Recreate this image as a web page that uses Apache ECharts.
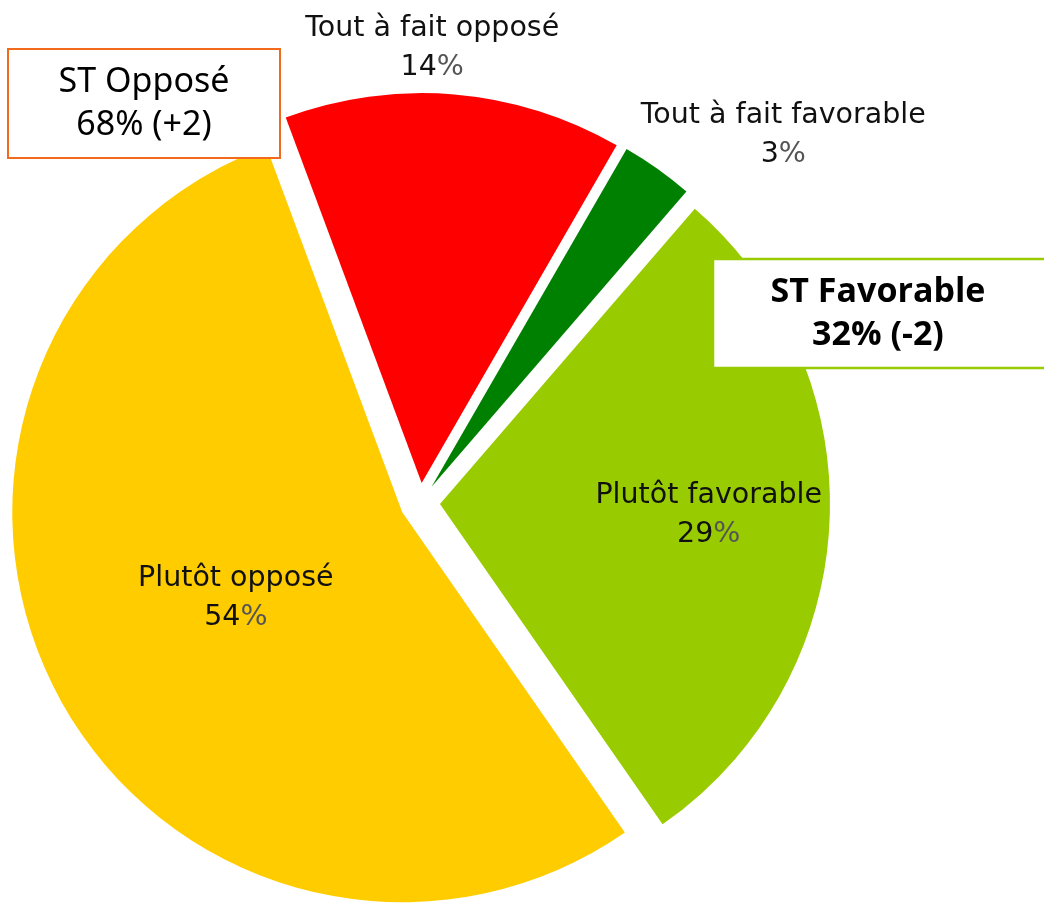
<!DOCTYPE html>
<html>
<head>
<meta charset="utf-8">
<script src="https://cdn.jsdelivr.net/npm/echarts@6/dist/echarts.min.js"></script>
<style>
  html, body { margin: 0; padding: 0; background: #ffffff; }
  #chart { width: 1044px; height: 904px; }
</style>
</head>
<body>
<div id="chart"></div>
<script>
// ---- data ----
const categories = ['Tout à fait favorable', 'Plutôt favorable', 'Plutôt opposé', 'Tout à fait opposé'];
const values = [3, 29, 54, 14];
const colors = ['#008000', '#99CC00', '#FFCC00', '#FF0000'];
const summaryTitles = ['ST Opposé', 'ST Favorable'];
const summaryTotals = [68, 32];
const summaryChanges = ['+2', '-2'];

// ---- label nudges (layout only) ----
const labelNudge = [[237, -190], [71, 1], [9, -6], [-6, -238]];

const chart = echarts.init(document.getElementById('chart'), null, { renderer: 'canvas' });

const labelFont = 'DejaVu Sans';
const option = {
  backgroundColor: '#ffffff',
  animation: false,
  series: [{
    type: 'pie',
    z: 2,
    center: [420, 503],
    radius: [0, 390],
    startAngle: 60,
    clockwise: true,
    selectedMode: 'multiple',
    selectedOffset: 20,
    avoidLabelOverlap: false,
    emphasis: { disabled: true },
    itemStyle: { borderWidth: 0 },
    label: {
      show: true,
      position: 'inside',
      formatter: p => `{n|${p.name}}\n{v|${p.value}}{p|%}`,
      rich: {
        n: { fontFamily: labelFont, fontSize: 28.5, lineHeight: 39, color: '#111111' },
        v: { fontFamily: labelFont, fontSize: 28.5, lineHeight: 39, color: '#111111' },
        p: { fontFamily: labelFont, fontSize: 28.5, lineHeight: 39, color: '#555555' }
      }
    },
    labelLine: { show: false },
    labelLayout: p => ({ dx: labelNudge[p.dataIndex][0], dy: labelNudge[p.dataIndex][1] }),
    data: categories.map((c, i) => ({
      name: c,
      value: values[i],
      selected: true,
      itemStyle: { color: colors[i] }
    }))
  }],
  graphic: [
    { type: 'rect', z: 100, shape: { x: 8, y: 49, width: 272, height: 109 },
      style: { fill: '#ffffff', stroke: '#F26B1D', lineWidth: 2 } },
    { type: 'text', z: 101, x: 144, y: 104,
      style: { text: summaryTitles[0] + '\n' + summaryTotals[0] + '% (' + summaryChanges[0] + ')',
               fontFamily: 'Noto Sans', fontSize: 34, lineHeight: 43, fill: '#000000',
               align: 'center', verticalAlign: 'middle' } },
    { type: 'rect', z: 100, shape: { x: 713, y: 259, width: 345, height: 109 },
      style: { fill: '#ffffff', stroke: '#99CC00', lineWidth: 2.5 } },
    { type: 'text', z: 101, x: 878, y: 314,
      style: { text: summaryTitles[1] + '\n' + summaryTotals[1] + '% (' + summaryChanges[1] + ')',
               fontFamily: 'Open Sans', fontWeight: 'bold', fontSize: 34, lineHeight: 43, fill: '#000000',
               align: 'center', verticalAlign: 'middle' } }
  ]
};
chart.setOption(option);
</script>
</body>
</html>
